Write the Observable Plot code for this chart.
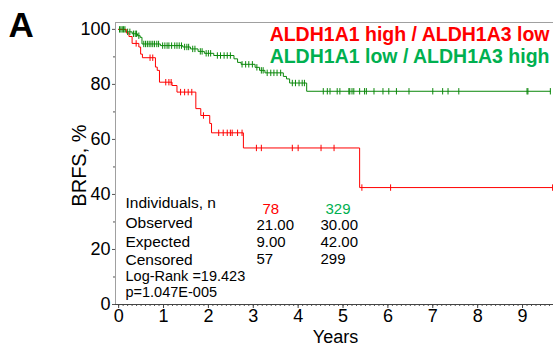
<!DOCTYPE html>
<html>
<head>
<meta charset="utf-8">
<script src="https://cdn.jsdelivr.net/npm/d3@7"></script>
<script src="https://cdn.jsdelivr.net/npm/@observablehq/plot@0.6"></script>
<style>
  html, body { margin: 0; padding: 0; background: #fff; }
  #chart svg { display: block; }
</style>
</head>
<body>
<div id="chart"></div>
<script>
// ---- Data ----
const panelLabel = "A";
const xLabel = "Years";
const yLabel = "BRFS, %";
const xTicks = [0, 1, 2, 3, 4, 5, 6, 7, 8, 9];
const yTicks = [0, 20, 40, 60, 80, 100];
const seriesNames = ["ALDH1A1 high / ALDH1A3 low", "ALDH1A1 low / ALDH1A3 high"];

// Group 1 (red): event times (years) and survival (%) after each event
const redEventT = [0.17, 0.23, 0.30, 0.45, 0.49, 0.53, 0.82, 0.86, 0.91, 1.19, 1.30, 1.72, 1.83, 2.03, 2.07, 2.78, 5.37];
const redEventS = [98.7, 97.4, 94.9, 93.6, 91.0, 89.7, 86.3, 85.1, 80.8, 79.6, 77.2, 71.2, 68.7, 65.8, 62.4, 56.9, 42.5];
const redEnd = 9.67;
const redCensor = [0.39, 0.70, 0.76, 1.05, 1.12, 1.17, 1.38, 1.47, 1.55, 1.63, 1.89, 2.23, 2.33, 2.42, 2.49, 2.53, 2.65, 2.75,
  3.07, 3.18, 3.87, 4.00, 4.51, 4.80, 5.42, 6.06, 9.67];

// Group 2 (green)
const greenEventT = [0.16, 0.30, 0.42, 0.48, 0.52, 0.93, 1.43, 1.60, 1.77, 1.91, 2.12, 2.57, 2.65, 2.73, 3.04, 3.14, 3.26, 3.67, 3.74, 3.81, 4.19];
const greenEventS = [99.1, 98.4, 97.7, 97.1, 94.7, 94.1, 93.6, 92.9, 92.0, 91.3, 90.5, 89.3, 88.0, 87.3, 86.2, 85.1, 84.2, 82.9, 82.0, 80.5, 77.5];
const greenEnd = 9.62;
const greenCensor = [0.02, 0.05, 0.08, 0.11, 0.14, 0.20, 0.25, 0.33, 0.37, 0.40, 0.45,
  0.56, 0.60, 0.64, 0.68, 0.72, 0.76, 0.80, 0.85, 0.89, 0.98, 1.03, 1.08, 1.12, 1.18, 1.25, 1.30, 1.35, 1.40,
  1.47, 1.52, 1.56, 1.65, 1.70, 1.82, 1.86, 1.95, 2.00, 2.05, 2.20, 2.27, 2.35, 2.42, 2.49,
  2.75, 2.83, 2.90, 2.98, 3.08, 3.18, 3.22, 3.31, 3.39, 3.46, 3.53, 3.61, 3.87, 3.94, 4.02, 4.09, 4.14,
  4.56, 4.65, 4.71, 4.87, 4.93, 5.13, 5.15, 5.20, 5.24, 5.37, 5.48, 5.52, 5.69, 5.89, 6.02, 6.19, 6.47,
  7.00, 7.22, 7.34, 7.58, 9.10, 9.12, 9.62];

// Statistics table
const statLabels = ["Individuals, n", "Observed", "Expected", "Censored"];
const redStats = ["78", "21.00", "9.00", "57"];
const greenStats = ["329", "30.00", "42.00", "299"];
const testLines = ["Log-Rank =19.423", "p=1.047E-005"];

// ---- Build step-curve tables ----
function curve(T, S, end) {
  const pts = [{t: 0, s: 100}];
  T.forEach((t, i) => pts.push({t, s: S[i]}));
  pts.push({t: end, s: S[S.length - 1]});
  return pts;
}
function survAt(T, S, t) {
  let s = 100;
  for (let i = 0; i < T.length; i++) if (T[i] <= t) s = S[i];
  return s;
}
const redCurve = curve(redEventT, redEventS, redEnd);
const greenCurve = curve(greenEventT, greenEventS, greenEnd);
const redMarks = redCensor.map(t => ({t, s: survAt(redEventT, redEventS, t)}));
const greenMarks = greenCensor.map(t => ({t, s: survAt(greenEventT, greenEventS, t)}));

const RED = "#ff0000";
const GREEN_LINE = "#0b880b";
const GREEN_TEXT = "#00b050";
const FONT = "Liberation Sans, Arial, sans-serif";

const tickSymbol = {draw(ctx) { ctx.moveTo(0, -3.2); ctx.lineTo(0, 3.2); }};

const X0 = -0.07, X1 = 9.69, YTOP = 102.5;

const labelRowY = [207.7, 227.3, 246, 264];
const numRowY = [213, 229.5, 246.5, 263.5];
const testRowY = [280, 296.5];
const MT = 22, ML = 115;

const marks = [
  Plot.ruleY([YTOP], {stroke: "#a0a0a0"}),
  Plot.ruleX([X0], {stroke: "#a0a0a0"}),
  Plot.axisY({ticks: d3.range(10, 100, 20), tickSize: 2, text: null, stroke: "#555"}),
  Plot.axisY({ticks: yTicks, tickSize: 3, tickPadding: 2, fontSize: 18, stroke: "#555", fill: "#000"}),
  Plot.axisX({ticks: d3.range(0, 9.65, 0.1), tickSize: 2, text: null, stroke: "#555"}),
  Plot.axisX({ticks: xTicks, tickSize: 4, tickPadding: 1, fontSize: 18, fill: "#000", stroke: "#444"}),
  Plot.ruleY([0], {stroke: "#444"}),
  Plot.line(greenCurve, {x: "t", y: "s", curve: "step-after", stroke: GREEN_LINE, strokeWidth: 1}),
  Plot.line(redCurve, {x: "t", y: "s", curve: "step-after", stroke: RED, strokeWidth: 1}),
  Plot.dot(greenMarks, {x: "t", y: "s", symbol: tickSymbol, stroke: GREEN_LINE, strokeWidth: 1, fill: "none"}),
  Plot.dot(redMarks, {x: "t", y: "s", symbol: tickSymbol, stroke: RED, strokeWidth: 1, fill: "none"}),
  // axis titles
  Plot.text([xLabel], {text: d => d, frameAnchor: "bottom", dx: (335 - (ML + 553) / 2), dy: 342 - 304, lineAnchor: "bottom", fontSize: 18}),
  Plot.text([yLabel], {text: d => d, frameAnchor: "left", dx: -36, dy: 2, rotate: -90, fontSize: 20, textAnchor: "middle"}),
  // panel letter
  Plot.text([panelLabel], {text: d => d, frameAnchor: "top-left", dx: 8 - ML, dy: 36 - MT, lineAnchor: "bottom", textAnchor: "start", fontSize: 35, fontWeight: "bold"}),
  // legend
  Plot.text([seriesNames[0]], {text: d => d, frameAnchor: "top-right", dx: -4, dy: 40.7 - MT, lineAnchor: "bottom", textAnchor: "end", fontSize: 19.5, fontWeight: "bold", fill: RED}),
  Plot.text([seriesNames[1]], {text: d => d, frameAnchor: "top-right", dx: -4, dy: 62.7 - MT, lineAnchor: "bottom", textAnchor: "end", fontSize: 19.5, fontWeight: "bold", fill: GREEN_TEXT}),
  // stats
  ...statLabels.map((s, i) => Plot.text([s], {text: d => d, frameAnchor: "top-left", dx: 125 - ML, dy: labelRowY[i] - MT, lineAnchor: "bottom", textAnchor: "start", fontSize: 15.5})),
  ...redStats.map((s, i) => Plot.text([s], {text: d => d, frameAnchor: "top-left", dx: (i === 0 ? 262 : 256) - ML, dy: numRowY[i] - MT, lineAnchor: "bottom", textAnchor: "start", fontSize: 15, letterSpacing: "2px", fill: i === 0 ? RED : "#000"})),
  ...greenStats.map((s, i) => Plot.text([s], {text: d => d, frameAnchor: "top-left", dx: (i === 0 ? 325 : 320) - ML, dy: numRowY[i] - MT, lineAnchor: "bottom", textAnchor: "start", fontSize: 15, letterSpacing: "2px", fill: i === 0 ? GREEN_TEXT : "#000"})),
  ...testLines.map((s, i) => Plot.text([s], {text: d => d, frameAnchor: "top-left", dx: 125 - ML, dy: testRowY[i] - MT, lineAnchor: "bottom", textAnchor: "start", fontSize: 14.5, letterSpacing: "1.6px"}))
];

const chart = Plot.plot({
  width: 553,
  height: 352,
  marginLeft: ML,
  marginRight: 0,
  marginTop: MT,
  marginBottom: 48,
  style: {fontFamily: FONT, fontSize: "15px", color: "#000", background: "#fff", overflow: "visible"},
  x: {domain: [X0, X1], label: null},
  y: {domain: [0, YTOP], label: null},
  marks
});
document.getElementById("chart").appendChild(chart);
</script>
</body>
</html>
